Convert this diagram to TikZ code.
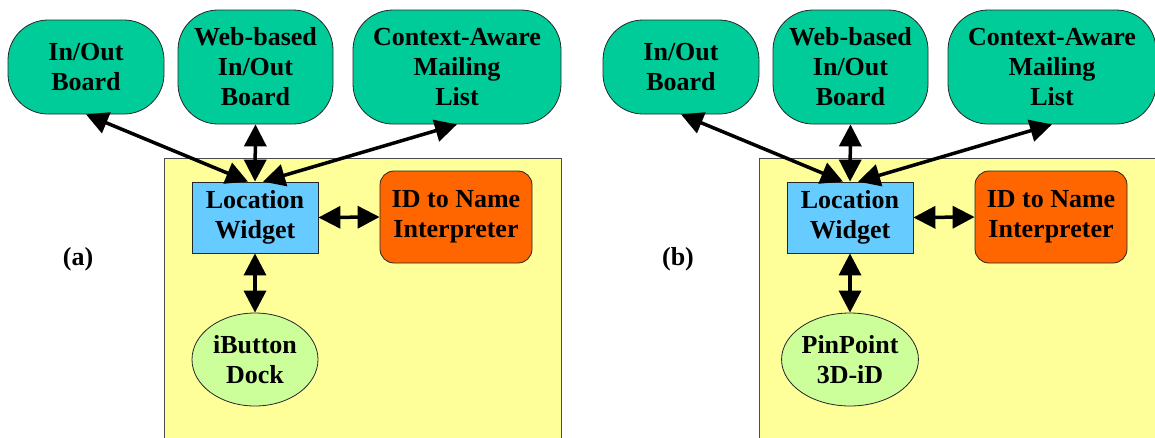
\documentclass[tikz,border=0pt]{standalone}
\usepackage{fontspec}
\setmainfont{Liberation Serif}
\usepackage{xcolor}
\usetikzlibrary{arrows.meta}
\usetikzlibrary{shapes.geometric}

\definecolor{appgreen}{HTML}{00CC99}
\definecolor{widgetblue}{HTML}{66CCFF}
\definecolor{interporange}{HTML}{FF6600}
\definecolor{sensorgreen}{HTML}{CCFF99}
\definecolor{hostyellow}{HTML}{FFFF99}

\begin{document}
\begin{tikzpicture}[x=1pt, y=-1pt,
    every node/.style={font=\fontsize{26}{30}\selectfont\bfseries, align=center, inner sep=0pt},
    box/.style={draw=black!85, line width=0.8pt},
    app/.style={box, fill=appgreen, rounded corners=40pt, minimum height=114pt},
    host/.style={draw=black!70, line width=1pt, fill=hostyellow, minimum width=397pt, minimum height=290pt},
    link/.style={line width=3.5pt, arrows={Triangle[length=22pt,width=22pt]-Triangle[length=22pt,width=22pt]}}]
      \useasboundingbox (0,0) rectangle (1155,437);
      \clip (0,0) rectangle (1155,437);

      \foreach \p/\dx/\sensor in {a/0/{iButton\\Dock}, b/595/{PinPoint\\3D-iD}} {
        \begin{scope}[xshift=\dx]
          \node[host] (host-\p) at (362.5,303) {};

          % applications
          \node[app, minimum width=156pt, minimum height=94pt] (io-\p) at (86,67) {In/Out\\Board};
          \node[app, minimum width=155pt] (web-\p) at (255.5,67) {Web-based\\In/Out\\Board};
          \node[app, minimum width=208pt] (cam-\p) at (457,67) {Context-Aware\\Mailing\\List};

          % widget, interpreter, sensor
          \node[box, fill=widgetblue, minimum width=126pt, minimum height=71pt] (loc-\p) at (255,217.5) {Location\\Widget};
          \node[box, fill=interporange, rounded corners=14pt, minimum width=152pt, minimum height=92pt] (name-\p) at (456,217) {ID to Name\\Interpreter};
          \node[box, ellipse, fill=sensorgreen, minimum width=126pt, minimum height=93pt] (sensor-\p) at (255,359.5) {\sensor};

          \draw[link] (io-\p.south) -- ([xshift=-7pt]loc-\p.north);
          \draw[link] (web-\p.south) -- (loc-\p.north);
          \draw[link] (cam-\p.south) -- ([xshift=8pt]loc-\p.north);
          \draw[link] (loc-\p.east) -- (name-\p.west);
          \draw[link] (loc-\p.south) -- (sensor-\p.north);
        \end{scope}
      }

      \node (lab-a) at (78,259) {(a)};
      \node (lab-b) at (678,259) {(b)};
    \end{tikzpicture}
\end{document}
